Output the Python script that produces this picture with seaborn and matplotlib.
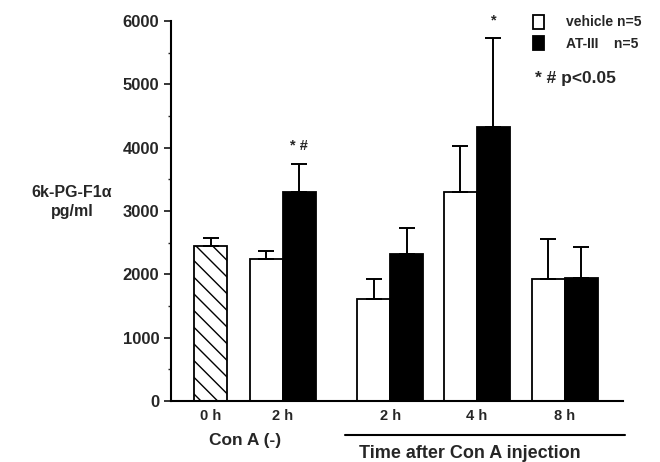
"""
Recria o grafico de barras 6k-PG-F1a (vehicle x AT-III) apos injecao de Con A.
"""
import numpy as np
import pandas as pd
import matplotlib
matplotlib.use("Agg")
import matplotlib.pyplot as plt
from matplotlib.patches import Patch
from matplotlib.lines import Line2D
import seaborn as sns

# --- valores (pg/ml, media e erro) ---
basal_label = ["0 h"]
basal_mean = [2450]
basal_err = [125]

tempos = ["2 h", "2 h", "4 h", "8 h"]
vehicle_mean = [2240, 1610, 3300, 1925]
vehicle_err = [125, 315, 725, 630]
at3_mean = [3300, 2320, 4320, 1940]
at3_err = [440, 410, 1410, 490]
tratamentos = ["vehicle n=5", "AT-III    n=5"]
marcas = ["* #", "", "*", ""]   # significancia sobre as barras AT-III

# posicoes no eixo x (estilo, nao dado)
pos_basal = [1.21]
pos_grupos = [3.39, 6.64, 9.27, 11.94]


def main():
    sns.set_theme(style="ticks")
    plt.rcParams["font.family"] = ["Liberation Sans", "DejaVu Sans"]
    plt.rcParams["font.weight"] = "bold"

    fig = plt.figure(figsize=(6.6, 4.62), dpi=100)
    ax = fig.add_axes([171 / 660, 61 / 462, 452 / 660, 380 / 462])

    df = pd.DataFrame({
        "pos": pos_grupos * 2,
        "valor": vehicle_mean + at3_mean,
        "erro": vehicle_err + at3_err,
        "trat": [tratamentos[0]] * 4 + [tratamentos[1]] * 4,
    })
    df_basal = pd.DataFrame({"pos": pos_basal, "valor": basal_mean, "erro": basal_err})

    # barra hachurada 0 h
    sns.barplot(data=df_basal, x="pos", y="valor", native_scale=True, width=1.0,
                color="white", edgecolor="black", linewidth=1.3, hatch="\\\\",
                errorbar=None, ax=ax)
    n_basal = len(ax.patches)

    # barras vehicle / AT-III
    largura = 2 * 1.0 / np.min(np.diff(pos_grupos))
    sns.barplot(data=df, x="pos", y="valor", hue="trat", hue_order=tratamentos,
                native_scale=True, width=largura, palette=["white", "black"],
                edgecolor="black", linewidth=1.3, errorbar=None, legend=False,
                saturation=1, ax=ax)

    # barras de erro (so para cima) nas posicoes das barras desenhadas
    barras_b = ax.patches[:n_basal]
    barras = sorted(ax.patches[n_basal:], key=lambda p: p.get_x())
    df_ord = pd.concat([df[df.trat == t].assign(k=i) for i, t in enumerate(tratamentos)])
    df_ord = df_ord.sort_values(["pos", "k"]).reset_index(drop=True)

    xs = [p.get_x() + p.get_width() / 2 for p in barras_b] + \
         [p.get_x() + p.get_width() / 2 for p in barras]
    ys = list(df_basal.valor) + list(df_ord.valor)
    es = list(df_basal.erro) + list(df_ord.erro)
    ax.errorbar(xs, ys, yerr=[np.zeros(len(es)), es], fmt="none",
                ecolor="black", elinewidth=1.4, capsize=6, capthick=1.4, zorder=1)

    # marcas de significancia sobre AT-III
    at3_rows = df_ord[df_ord.k == 1]
    for (i, r), m in zip(at3_rows.iterrows(), marcas):
        if m:
            ax.text(xs[n_basal + i], r.valor + r.erro + 170, m, ha="center",
                    va="bottom", fontsize=10.5, fontweight="bold")

    ax.set_xlim(0, 13.7)
    ax.set_ylim(0, 6000)
    ax.set_yticks(range(0, 6001, 1000))
    ax.set_yticks(range(500, 6000, 1000), minor=True)
    ax.set_xticks(pos_basal + pos_grupos)
    ax.set_xticklabels(basal_label + tempos)
    ax.tick_params(axis="x", length=0, labelsize=10.5, pad=6)
    ax.tick_params(axis="y", which="major", length=5, width=1.3, labelsize=12)
    ax.tick_params(axis="y", which="minor", length=2.5, width=1)
    for t in ax.get_xticklabels() + ax.get_yticklabels():
        t.set_fontweight("bold")
    ax.set_xlabel("")
    ax.set_ylabel("")
    sns.despine(ax=ax)
    for s in ["left", "bottom"]:
        ax.spines[s].set_linewidth(1.5)
        ax.spines[s].set_color("black")

    # rotulos fora do eixo
    fig.text(72 / 660, 1 - 202 / 462, "6k-PG-F1\u03b1\npg/ml", ha="center",
             va="center", fontsize=11.5, fontweight="bold", linespacing=1.4)
    fig.text(245 / 660, 1 - 441 / 462, "Con A (-)", ha="center", va="center",
             fontsize=12.5, fontweight="bold")
    fig.text(470 / 660, 1 - 453 / 462, "Time after Con A injection", ha="center",
             va="center", fontsize=13, fontweight="bold")
    fig.add_artist(Line2D([345 / 660, 625 / 660], [1 - 435 / 462] * 2,
                          color="black", linewidth=1.5))

    # legenda
    handles = [Patch(facecolor="white", edgecolor="black", linewidth=1.3),
               Patch(facecolor="black", edgecolor="black", linewidth=1.3)]
    fig.legend(handles, tratamentos, loc="upper left",
               bbox_to_anchor=(520 / 660, 1 - 2 / 462), frameon=False,
               handlelength=0.8, handleheight=1.2, handletextpad=1.6,
               labelspacing=0.5, prop={"weight": "bold", "size": 10})
    fig.text(535 / 660, 1 - 78 / 462, "* # p<0.05", ha="left", va="center",
             fontsize=12.5, fontweight="bold")

    fig.savefig("out.png", dpi=100)
    plt.close(fig)


if __name__ == "__main__":
    main()
